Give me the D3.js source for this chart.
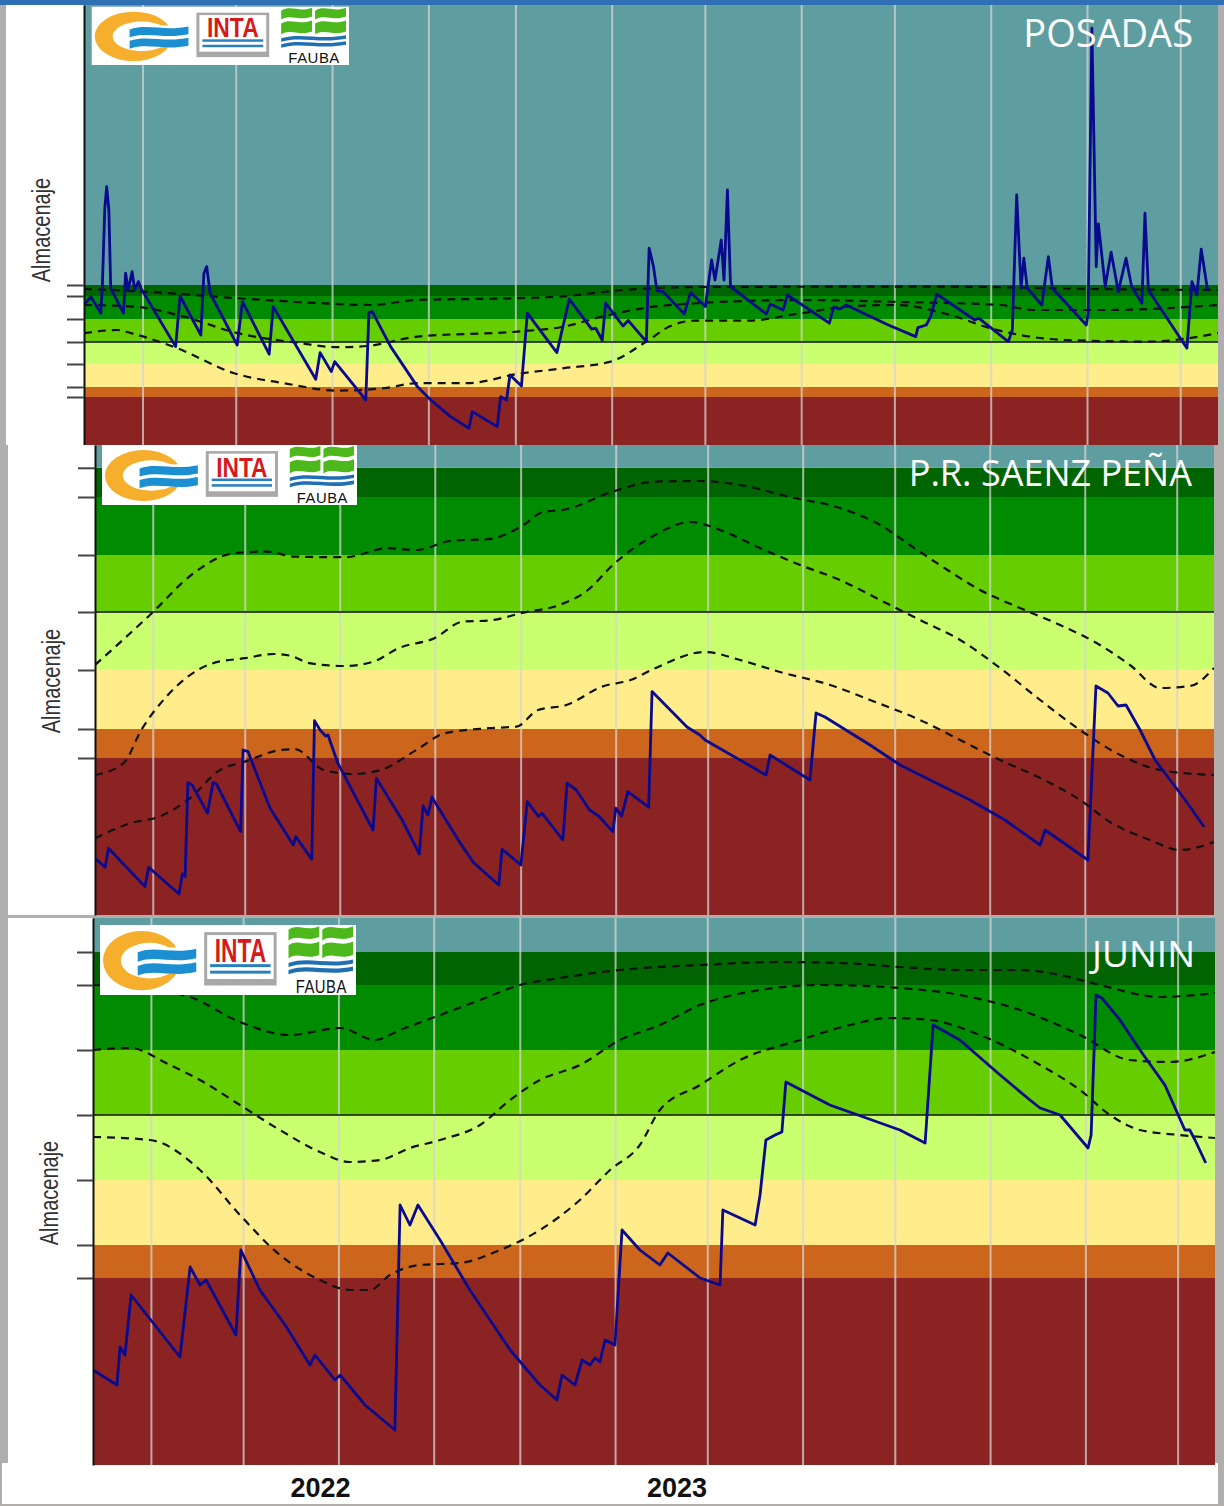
<!DOCTYPE html>
<html><head><meta charset="utf-8">
<script src="https://cdn.jsdelivr.net/npm/d3@7"></script>
<style>body{margin:0;background:#b1aeae;} svg{display:block}</style>
</head><body>
<svg id="c" width="1224" height="1506"></svg>
<script>
// ---------------- DATA ----------------
const seasonStart = "2021-10-13";
const seasonEnd = "2022-10-13";
const monthGridDates = ["2021-11-01","2021-12-01","2022-01-01","2022-02-01","2022-03-01","2022-04-01",
  "2022-05-01","2022-06-01","2022-07-01","2022-08-01","2022-09-01","2022-10-01"];
const yearLabels = ["2022","2023"];
const yearLabelDates = ["2021-12-26","2022-04-21"];
const stationNames = ["POSADAS","P.R. SAENZ PEÑA","JUNIN"];
const yAxisTitle = "Almacenaje";
// band colours from the bottom (driest) to the top (excess)
const bandColors = ["#8b2323","#cd661d","#ffec8b","#caff70","#66cd00","#008b00","#006400","#5f9ea0"];

// band limits (mm) and axis maxima
const posadasThresholds = [24, 29, 40.5, 51.5, 63, 74.5, 80];
const posadasMax = 220;
const saenzThresholds = [78.5, 93, 122.5, 151.5, 180, 209, 223.6];
const saenzMax = 235;
const juninThresholds = [93.5, 110, 142.5, 175, 207.5, 240, 256.5];
const juninMax = 273.5;

// [day since season start, storage mm]
const posadasStorage = [[0,70],[2.2,74.2],[5.4,65.9],[5.9,79.2],[6.7,118.5],[7.3,129.2],[8,117.5],[8.6,78.4],[12.7,65.9],[13.4,85.9],[14.2,77.5],[15.5,86.7],[16.3,77.5],[17.5,81.7],[18.3,78.4],[29.5,49.2],[30.9,74.5],[37.6,55],[38.6,85.9],[39.5,89.2],[40.6,75.9],[49.3,50],[51,71.7],[59.6,45.4],[60.9,69.2],[74.6,32.9],[76,46.2],[79.6,36.7],[80.7,41.7],[90.7,22.5],[91.7,66.2],[92.8,66.7],[98.7,49.2],[107.3,29.2],[111.6,22.5],[118,14.2],[123.9,8.4],[125,16.7],[133,9.2],[134.1,24.2],[136,22.5],[137.1,35],[140.8,29.5],[142.7,65.9],[152.2,46.2],[156.2,72.9],[163.4,57.9],[164.7,58.4],[166.8,52.5],[167.9,70.9],[173.5,59.5],[175.2,62.2],[181,51.7],[181.9,98.4],[183.3,89.2],[184.4,77.2],[186.4,76.7],[193.2,65.5],[195.2,76.2],[200,69.2],[202,92.5],[203.1,82.5],[205.1,102.5],[206,82.5],[207.1,127.5],[208.1,79.2],[219.6,65.5],[220.9,70.5],[225,67.5],[226.4,75],[239.9,60.9],[241.3,68.9],[243.3,67.9],[245.3,70],[258.9,60],[267.7,54.2],[268.4,58.7],[271.1,60],[272.5,64.2],[274.5,75.4],[286.7,62.5],[288,63.4],[297.5,51.7],[298.8,57.5],[300.2,125],[301.6,78.4],[302.5,93.4],[303.6,78.4],[308.3,70],[310.4,94.2],[311.7,78.4],[322.6,60],[323.2,65.9],[324.4,208.4],[325.8,89.2],[326.5,110.5],[328.7,79.2],[330.6,96.4],[332.9,76.7],[335.4,93.4],[337.2,79.2],[340.5,70.9],[341.5,115.9],[342.6,77.5],[355,48.4],[356.6,81.7],[358.2,75],[359.6,97.9],[361.6,77.9]];
const posadasRefHigh = [[0,78],[19.3,76.7],[48.3,73.5],[75,71],[92.4,70],[107.2,72.5],[139.4,73.4],[153.2,74.2],[173.5,77.5],[198.3,79],[275.2,79.2],[329.3,77.9],[365,77.5]];
const posadasRefMid = [[0,70],[16.1,69.2],[32.2,64.2],[48.3,56.4],[69.8,50.9],[81.5,48.9],[91.2,49.5],[107.3,54.2],[139.5,56.7],[154.5,59.2],[166.7,64.2],[180.3,68.5],[198.3,71],[230.5,72.5],[262.7,71.5],[294.9,70],[305.5,67.5],[329.3,67.5],[365,70]];
const posadasRefLow = [[0,55.9],[10.7,57.5],[16.1,55.5],[30,48.4],[48.3,35.9],[64.4,30.9],[81.5,27.2],[96.6,28.4],[107.3,30.9],[123.4,30.9],[139.5,35.5],[154.5,38.4],[169.5,41.7],[181,51.7],[188.4,59.2],[196.6,62.2],[214.2,62.2],[229.2,65.5],[248.2,69.5],[261.7,70],[278.8,65],[292.6,58],[315.8,52.5],[342.8,51.7],[365,55.9]];

const saenzStorage = [[0,28.4],[3.3,23.9],[4.4,33.4],[16.3,14.2],[17.5,23.9],[27.4,10.5],[28.5,20.5],[29.4,19.2],[30.3,66.2],[31.7,65],[36.7,50.9],[38.5,66.2],[39.6,65.5],[47.5,41.7],[48.3,82.5],[49.9,81.7],[57.1,53.4],[64.7,35],[65.5,39.2],[70.7,27.9],[71.6,97.2],[73.4,92.5],[75.2,89.5],[76,90],[79.2,75.9],[90.7,42.5],[91.8,68.4],[100.2,47.5],[105.8,30.5],[107,54.5],[108.6,50],[109.9,58.9],[118.8,36.7],[123.5,26.2],[131.7,15],[132.8,32.9],[138.9,25],[141,56.7],[144.7,49.2],[145.8,50.9],[152.6,37.5],[154,65.9],[157,62.5],[161.3,52.5],[164.3,49.5],[168.9,41.7],[169.9,53.4],[171.8,49.5],[173.8,61.7],[180.6,53.9],[181.7,111.7],[193.1,94],[197.3,90],[199,87.5],[218.9,70],[220.2,80],[233.2,67.5],[235.2,101],[238.1,99],[252.8,85],[262.6,75],[282.2,60],[285.4,57.5],[296.8,47.5],[308.3,35],[309.9,42.5],[323.9,27.5],[326.5,114.5],[330.4,111],[333.7,104.5],[336.3,105],[340.9,92.5],[345.8,77.5],[350.7,67.5],[355.6,57.5],[361.8,44]];
const saenzRefHigh = [[0,125],[18.6,151],[31.4,170],[45.4,180.9],[55.9,181.7],[65.2,179.2],[81.6,178.9],[95.5,183.4],[104.8,182.5],[116.5,187.2],[128.2,187.9],[139.8,195],[145.6,201.2],[153.8,202.9],[168.9,211.7],[182.7,216.7],[197.3,217],[210.4,215],[226.7,209],[243,203.5],[256.1,195],[265.8,185],[275.6,175],[288.7,162.5],[301.7,153.5],[314.8,145],[327.8,135],[337.6,125],[347.4,113.5],[357.2,114.5],[365,123.5]];
const saenzRefMid = [[0,70],[9.3,75.9],[15.1,92.5],[23.3,109.2],[38.5,125.9],[48.9,128.4],[58.3,130.5],[64.1,129.5],[69.9,125.9],[81.6,124.5],[90.9,126.7],[99,133.4],[110.7,138.4],[120,146.7],[128.2,147.2],[139.8,151.2],[151.5,155],[160.8,162.5],[168.9,175],[182.7,190],[194.1,196.5],[203.9,192.5],[216.9,183.5],[230,175],[243,167.5],[256.1,157.5],[269.1,147.5],[282.2,137.5],[295.2,123.5],[308.3,107.5],[321.3,92.5],[334.4,80],[347.4,72.5],[365,70]];
const saenzRefLow = [[0,38.4],[11.6,45.9],[21,49.2],[30.3,57.5],[40.8,72.5],[48.9,76.7],[60.6,82.5],[65.2,82.9],[74.6,72.5],[83.9,70.5],[93.2,72.5],[104.8,82.5],[114.2,90.9],[128.2,93.4],[137.5,94.2],[144.5,102.5],[153.8,105],[165.4,114.2],[174.7,117.5],[182.7,123.4],[199,131.5],[210.4,127.5],[223.4,121.5],[239.8,115],[252.8,107.5],[269.1,97.5],[282.2,87.5],[295.2,77.5],[308.3,68.5],[321.3,57.5],[331.1,46.5],[344.1,37.5],[353.9,32.5],[365,36.5]];

const juninStorage = [[0,47.5],[7.8,40],[8.8,59],[10.4,55],[12.4,85],[28.3,54],[31.6,99],[34.8,90],[36.8,92.5],[46.5,65],[48.1,107.5],[54.3,87.5],[62.5,70],[70.6,50],[72.2,55],[78.7,42.5],[80.4,45],[88.5,30],[98.2,17.5],[99.9,130],[103.1,120],[105.7,130],[112.9,112.5],[122.6,87.5],[135.7,57.5],[145.4,40],[150.9,32.5],[152.6,45],[156.8,40],[159.1,52.5],[161.7,50],[163.3,53.5],[164.9,51.5],[166.6,62.5],[169.8,60],[172.1,117.5],[177.9,107.5],[184.4,100],[187,106],[197.5,93.5],[204,90],[204.9,127.5],[215.4,120],[217,135],[218.9,162.5],[221.9,165],[224.1,166.5],[225.4,191.5],[239.7,180],[262.5,167.5],[270.7,161],[273.3,220],[282,212.5],[295.1,195],[304.8,182.5],[308.1,178.5],[314.6,175],[323.7,158.5],[324.7,165],[326.3,235],[328.2,233.5],[334.1,222.5],[340.6,207.5],[348.7,190],[355.2,167.5],[356.8,167.5],[358.5,162.5],[362,151]];
const juninRefHigh = [[0,240],[18.5,237.5],[31.6,234],[47.8,221.5],[64.1,215],[80.4,218.5],[91.7,212.5],[99.9,217.5],[112.9,225],[125.9,232.5],[138.9,240],[151.9,243.5],[171.4,247.5],[197.5,250],[223.5,251.5],[243,251],[262.5,249],[282,247.5],[301.6,247.5],[314.6,245],[327.6,240],[347.1,234],[365,236]];
const juninRefMid = [[0,207.5],[12,208.5],[25,200],[34.8,192.5],[47.8,180],[60.8,167.5],[73.8,156.5],[83.6,151.5],[93.4,152.5],[103.1,158.5],[112.9,162.5],[125.9,170],[135.7,182.5],[145.4,192.5],[158.4,200],[171.4,212.5],[184.4,220],[197.5,230],[217,237.5],[236.5,240],[262.5,238.5],[282,235],[301.6,227.5],[321.1,215],[337.3,202.5],[350.3,201.5],[365,206.5]];
const juninRefLow = [[0,164],[18.5,162.5],[34.8,147.5],[47.8,125],[60.8,105],[73.8,92.5],[83.6,87.5],[90.1,87.5],[96.6,95],[106.4,100],[119.4,101],[132.4,107.5],[145.4,117.5],[158.4,132.5],[168.2,147.5],[177.9,160],[184.4,177.5],[197.5,190],[210.5,202.5],[230,212.5],[246.3,220],[259.3,223.5],[272.3,222.5],[288.5,215],[308.1,200],[321.1,187.5],[330.8,175],[340.6,167.5],[353.6,165],[365,163.5]];

// ---------------- LAYOUT ----------------
const parse = d3.timeParse("%Y-%m-%d");
const t0 = parse(seasonStart), t1 = parse(seasonEnd);
const dayDate = d => new Date(+t0 + d * 864e5);

const panels = [
  {name: stationNames[0], thr: posadasThresholds, max: posadasMax, storage: posadasStorage,
   refs: [posadasRefHigh, posadasRefMid, posadasRefLow],
   x0: 84, x1: 1218, y0: 5, y1: 445, left: 6, logo: [91.7, 6.7, 257.3, 58.3],
   tx: 1193, ty: 47, ts: 38, ax: 42, ay: 230, ticks: 17},
  {name: stationNames[1], thr: saenzThresholds, max: saenzMax, storage: saenzStorage,
   refs: [saenzRefHigh, saenzRefMid, saenzRefLow],
   x0: 95, x1: 1214, y0: 445, y1: 915, left: 8, logo: [102, 445, 255, 60],
   tx: 1192, ty: 486, ts: 36, ax: 52, ay: 681, ticks: 17},
  {name: stationNames[2], thr: juninThresholds, max: juninMax, storage: juninStorage,
   refs: [juninRefHigh, juninRefMid, juninRefLow],
   x0: 93, x1: 1215, y0: 918, y1: 1465, left: 8, logo: [100, 925, 256, 70],
   tx: 1195, ty: 967, ts: 37, ax: 50, ay: 1193, ticks: 16}
];

const svg = d3.select("#c");
svg.append("rect").attr("width",1224).attr("height",1506).attr("fill","#b1aeae");
svg.append("rect").attr("x",0).attr("y",0).attr("width",1224).attr("height",5).attr("fill","#2f6fb3");
// bottom white label strip
svg.append("rect").attr("x",2).attr("y",1463).attr("width",1216).attr("height",41).attr("fill","#fff");

function ellipsePath(cx, cy, rx, ry){
  return `M${cx-rx},${cy}a${rx},${ry} 0 1,0 ${2*rx},0a${rx},${ry} 0 1,0 ${-2*rx},0Z`;
}
function waveBand(g, x, y, w, h, color){
  g.append("path").attr("fill", color).attr("d",
    `M${x},${y+3} C${x+w*0.3},${y-3} ${x+w*0.6},${y+5} ${x+w},${y}` +
    ` L${x+w},${y+h} C${x+w*0.6},${y+h+5} ${x+w*0.3},${y+h-3} ${x},${y+h+3} Z`);
}
function drawLogo(parent, box){
  const g = parent.append("g").attr("transform",
    `translate(${box[0]},${box[1]}) scale(${box[2]/258},${box[3]/59})`);
  g.append("rect").attr("width",258).attr("height",59).attr("fill","#fff");
  // orange ring
  g.append("path").attr("fill","#f6ae2d").attr("fill-rule","evenodd")
    .attr("d", ellipsePath(42,30,39,25) + ellipsePath(50,30,29,15));
  g.append("rect").attr("x",68).attr("y",19).attr("width",16).attr("height",22).attr("fill","#fff");
  waveBand(g, 38, 20, 59, 8, "#1b8fd2");
  waveBand(g, 38, 31.5, 59, 8, "#1b8fd2");
  // INTA
  g.append("rect").attr("x",105).attr("y",6).attr("width",73).attr("height",45).attr("fill","#a8a8a8");
  g.append("rect").attr("x",108).attr("y",8.5).attr("width",67).attr("height",37).attr("fill","#fff");
  g.append("text").attr("transform","translate(141.5,31) scale(0.82,1)").attr("text-anchor","middle")
    .attr("font-family","'Liberation Sans',Arial,sans-serif")
    .attr("font-weight","bold").attr("font-size",28).attr("fill","#d7191c").text("INTA");
  g.append("rect").attr("x",111).attr("y",33).attr("width",61).attr("height",2.5).attr("fill","#2a7fc1");
  g.append("rect").attr("x",111).attr("y",38.5).attr("width",61).attr("height",2.5).attr("fill","#2a7fc1");
  // FAUBA
  [190, 224].forEach(cx => {
    waveBand(g, cx, 1, 31, 9, "#4cb81c");
    waveBand(g, cx, 14, 31, 11, "#4cb81c");
  });
  waveBand(g, 190, 29, 65, 3.5, "#1f6fb5");
  waveBand(g, 190, 35, 65, 3.5, "#1f6fb5");
  g.append("text").attr("x",223).attr("y",57).attr("text-anchor","middle")
    .attr("font-family","'Liberation Sans',Arial,sans-serif").attr("font-size",15).attr("letter-spacing",0.5)
    .attr("fill","#111").text("FAUBA");
}

const gridDates = monthGridDates.map(parse);

panels.forEach((p, i) => {
  const g = svg.append("g");
  // white surround
  g.append("rect").attr("x",p.left).attr("y",p.y0).attr("width",p.x1-p.left).attr("height",p.y1-p.y0).attr("fill","#fff");
  const x = d3.scaleTime().domain([t0, t1]).range([p.x0, p.x1]);
  const y = d3.scaleLinear().domain([0, p.max]).range([p.y1, p.y0]);
  const limits = [0, ...p.thr, p.max];
  const clipId = "clip" + i;
  g.append("clipPath").attr("id", clipId).append("rect")
    .attr("x", p.x0).attr("y", p.y0).attr("width", p.x1 - p.x0).attr("height", p.y1 - p.y0);
  const plot = g.append("g").attr("clip-path", `url(#${clipId})`);
  // colour bands
  plot.selectAll("rect.band").data(bandColors).join("rect").attr("class","band")
    .attr("x", p.x0).attr("width", p.x1 - p.x0)
    .attr("y", (c, k) => y(limits[k+1])).attr("height", (c, k) => y(limits[k]) - y(limits[k+1]))
    .attr("fill", c => c);
  // month gridlines
  plot.selectAll("line.grid").data(gridDates).join("line").attr("class","grid")
    .attr("x1", d => x(d)).attr("x2", d => x(d)).attr("y1", p.y0).attr("y2", p.y1)
    .attr("stroke","#d4d4d4").attr("stroke-opacity",0.75).attr("stroke-width",2);
  // reference (normal) line
  plot.append("line").attr("x1",p.x0).attr("x2",p.x1).attr("y1",y(p.thr[3])).attr("y2",y(p.thr[3]))
    .attr("stroke","#111").attr("stroke-width",1.5);
  // dashed climatology curves
  const smooth = d3.line().x(d => x(dayDate(d[0]))).y(d => y(d[1])).curve(d3.curveMonotoneX);
  plot.selectAll("path.ref").data(p.refs).join("path").attr("class","ref")
    .attr("d", smooth).attr("fill","none").attr("stroke","#111").attr("stroke-width",2.2)
    .attr("stroke-dasharray","8,6");
  // storage line
  const line = d3.line().x(d => x(dayDate(d[0]))).y(d => y(d[1]));
  plot.append("path").datum(p.storage).attr("d", line).attr("fill","none")
    .attr("stroke","#0a0a8e").attr("stroke-width",2.8).attr("stroke-linejoin","round");
  // y axis with ticks at band limits
  const axis = d3.axisLeft(y).tickValues(p.thr).tickFormat("").tickSizeInner(p.ticks).tickSizeOuter(0);
  const ag = g.append("g").attr("transform",`translate(${p.x0},0)`).call(axis);
  ag.select(".domain").attr("stroke","#111").attr("stroke-width",2);
  ag.selectAll(".tick line").attr("stroke","#444").attr("stroke-width",2);
  // axis title (narrow)
  g.append("text").attr("transform",`translate(${p.ax},${p.ay}) rotate(-90) scale(0.8,1)`)
    .attr("text-anchor","middle").attr("dominant-baseline","central")
    .attr("font-family","'Liberation Sans',Arial,sans-serif")
    .attr("font-size",25).attr("fill","#333").text(yAxisTitle);
  // logos
  drawLogo(g, p.logo);
  // station title
  g.append("text").attr("x",p.tx).attr("y",p.ty).attr("text-anchor","end")
    .attr("font-family","'Open Sans',sans-serif").attr("font-size",p.ts).attr("fill","#fff").text(p.name);
  // year labels under the last panel
  if (i === panels.length - 1) {
    g.selectAll("text.year").data(yearLabels).join("text").attr("class","year")
      .attr("x", (d, k) => x(parse(yearLabelDates[k]))).attr("y", 1497)
      .attr("text-anchor","middle").attr("font-family","'Liberation Sans',Arial,sans-serif")
      .attr("font-weight","bold").attr("font-size",27).attr("fill","#111").text(d => d);
  }
});
</script>
</body></html>
